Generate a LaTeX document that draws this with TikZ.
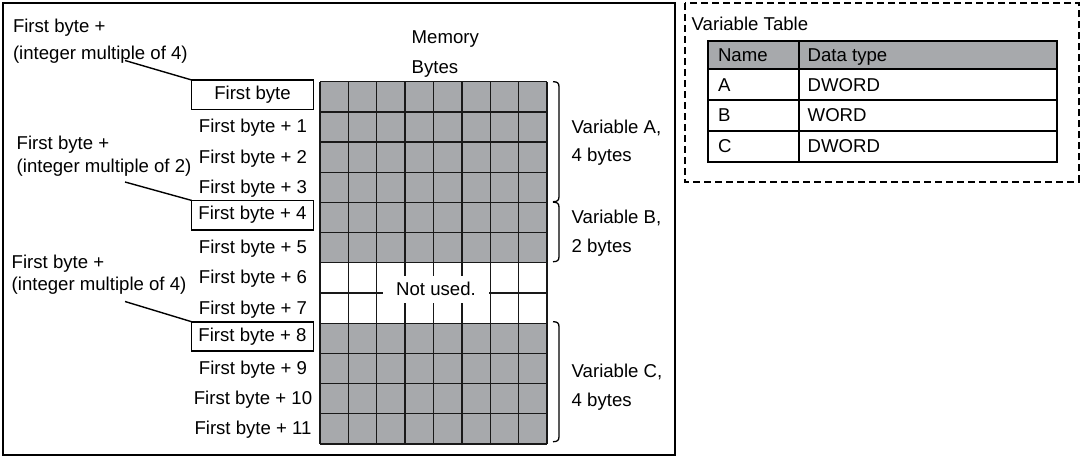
\documentclass[tikz,border=0pt]{standalone}
\usepackage{fontspec}
\setmainfont{Liberation Sans}
\definecolor{cellgray}{RGB}{167,169,172}
\begin{document}
\begin{tikzpicture}[x=1pt,y=-1pt,
  every node/.style={font=\fontsize{18.6}{21}\selectfont, inner sep=0pt, outer sep=0pt},
  gridline/.style={line width=1.3pt, black!90},
  txt/.style={anchor=base},
  txtl/.style={anchor=base west},
  leader/.style={line width=1.4pt},
  fbox/.style={draw, line width=1.5pt, minimum width=121.6pt, minimum height=29.3pt},
  bracket/.style={line width=1.3pt},
  frame/.style={line width=1.8pt},
  tabline/.style={line width=2pt}]
\useasboundingbox (0,0) rectangle (1081,457);

% outer frame
\draw[frame] (3,3) rectangle (674.7,454.7);

% memory grid
\fill[cellgray] (320,81.7) rectangle (547,262.84);
\fill[cellgray] (320,323.22) rectangle (547,444);
\foreach \i in {0,...,8} \draw[gridline] ({320+\i*28.375},81.7) -- ++(0,362.28);
\foreach \j in {0,...,12} \draw[gridline] (320,{81.7+\j*30.19}) -- ++(227,0);
\node[fill=white, minimum width=106.6pt, minimum height=27pt] (nu) at (436,289.2) {Not used.};

% header labels
\node[txtl] (mem) at (411.7,43.3) {Memory};
\node[txtl] (bytes) at (411.7,73.3) {Bytes};

% row labels
\node[fbox] (fb0) at (252.5,94.65) {First byte};
\node[fbox] (fb4) at (252.5,215.1) {First byte + 4};
\node[fbox] (fb8) at (252.5,336.4) {First byte + 8};
\foreach \i in {1,2,3,5,6,7,9,10,11}
  \node[txt] (r\i) at (253,{81.7+(\i+0.5)*30.19+6}) {First byte + \i};

% leader labels
\node[txtl] (l1a) at (13,32.3) {First byte +};
\node[txtl] (l1b) at (13,59.3) {(integer multiple of 4)};
\node[txtl] (l2a) at (16.7,149.3) {First byte +};
\node[txtl] (l2b) at (16.7,172.5) {(integer multiple of 2)};
\node[txtl] (l3a) at (11.7,268.5) {First byte +};
\node[txtl] (l3b) at (11.7,290) {(integer multiple of 4)};
\coordinate (c1) at (125,60.5);
\coordinate (c2) at (125,182);
\coordinate (c3) at (125,301.5);
\draw[leader] (c1) -- (fb0.north west);
\draw[leader] (c2) -- (fb4.north west);
\draw[leader] (c3) -- (fb8.north west);

% brackets
\draw[bracket] (553,81.7) .. controls (557.5,81.7) and (559,83) .. (559,87) -- (559,196.4) .. controls (559,200.4) and (557.5,201.7) .. (553,201.7);
\draw[bracket] (553,202.2) .. controls (557.5,202.2) and (559,203.5) .. (559,207.5) -- (559,256.4) .. controls (559,260.4) and (557.5,261.7) .. (553,261.7);
\draw[bracket] (553,321.7) .. controls (557.5,321.7) and (559,323) .. (559,327) -- (559,436.4) .. controls (559,440.4) and (557.5,441.7) .. (553,441.7);

% variable labels
\node[txtl] (va1) at (571.7,133.3) {Variable A,};
\node[txtl] (va2) at (571.7,162) {4 bytes};
\node[txtl] (vb1) at (571.7,223.8) {Variable B,};
\node[txtl] (vb2) at (571.7,252.8) {2 bytes};
\node[txtl] (vc1) at (571.7,377.5) {Variable C,};
\node[txtl] (vc2) at (571.7,406.5) {4 bytes};

% variable table
\draw[line width=2pt, dash pattern=on 7pt off 4pt] (685,3.3) rectangle (1078.8,182);
\node[txtl] (vt) at (691.7,31) {Variable Table};
\fill[cellgray] (707.7,40.7) rectangle (1057.3,69.3);
\draw[tabline] (707.7,69.3) -- (1057.3,69.3);
\draw[tabline] (707.7,100) -- (1057.3,100);
\draw[tabline] (707.7,130.7) -- (1057.3,130.7);
\draw[tabline] (799,40.7) -- (799,162.3);
\draw[tabline] (707.7,40.7) rectangle (1057.3,162.3);
\node[txtl] (hn) at (718,61.8) {Name};
\node[txtl] (hd) at (807.7,61.8) {Data type};
\node[txtl] (na) at (718,91.5) {A};
\node[txtl] (da) at (807.7,91.5) {DWORD};
\node[txtl] (nb) at (718,122) {B};
\node[txtl] (db) at (807.7,122) {WORD};
\node[txtl] (nc) at (718,153) {C};
\node[txtl] (dc) at (807.7,153) {DWORD};
\end{tikzpicture}
\end{document}
